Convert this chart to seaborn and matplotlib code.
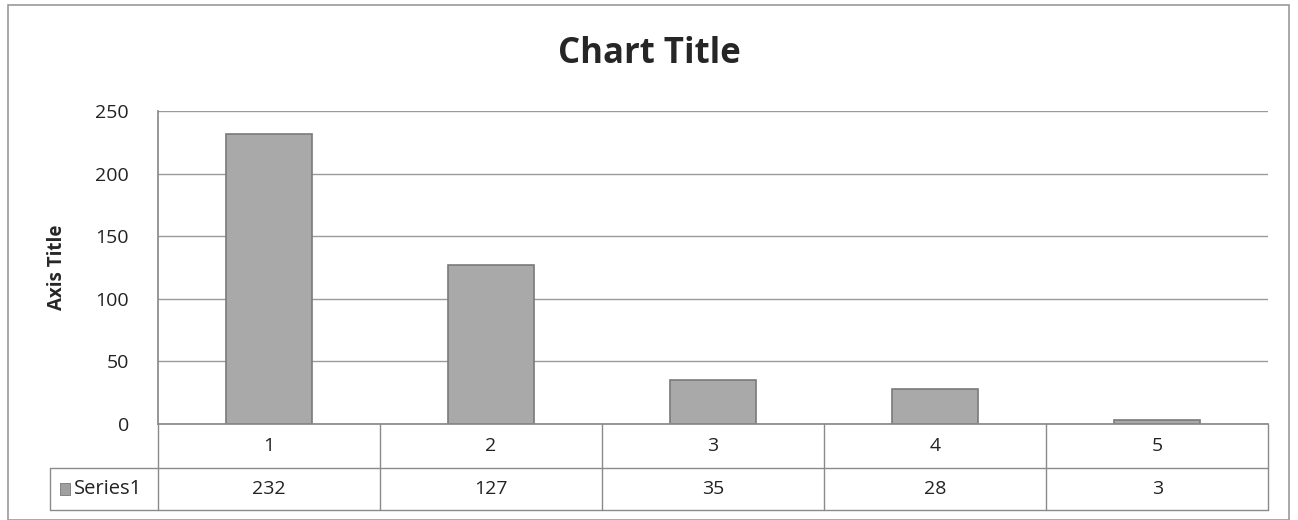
import matplotlib
matplotlib.use("Agg")
import matplotlib.pyplot as plt
import matplotlib.transforms as mtransforms
from matplotlib.patches import Rectangle
import seaborn as sns
import pandas as pd

# data
categories = ["1", "2", "3", "4", "5"]
values = [232, 127, 35, 28, 3]
series_name = "Series1"

sns.set_theme(style="white")
plt.rcParams['font.family'] = ['Open Sans', 'DejaVu Sans']

df = pd.DataFrame({"cat": categories, "val": values})

fig = plt.figure(figsize=(12.98, 5.2), dpi=100)
ax = fig.add_axes([0.1217, 0.1846, 0.8553, 0.6019])

sns.barplot(data=df, x="cat", y="val", color="#a9a9a9", width=0.39,
            edgecolor="#7a7a7a", linewidth=1.2, saturation=1, ax=ax)

ax.set_ylim(0, 250)
ax.set_xlim(-0.5, len(categories) - 0.5)
ax.set_yticks([0, 50, 100, 150, 200, 250])
ax.yaxis.grid(True, color="#9a9a9a", linewidth=1)
ax.set_axisbelow(True)
ax.tick_params(axis="y", labelsize=14, colors="#222222", length=0, pad=21)
ax.set_xticks([])
ax.set_xlabel("")
ax.set_ylabel("Axis Title", fontsize=13.5, fontweight="bold", labelpad=20)
for s in ["top", "right"]:
    ax.spines[s].set_visible(False)
ax.spines["left"].set_color("#8a8a8a")
ax.spines["bottom"].set_color("#8a8a8a")

fig.suptitle("Chart Title", fontsize=25, fontweight="bold", y=0.93)

# data table under the plot
trans = mtransforms.blended_transform_factory(ax.transData, ax.transAxes)
line_kw = dict(color="#8a8a8a", linewidth=1, clip_on=False)
n = len(categories)
r1, r2 = -0.1406, -0.275
left_x = -0.5 - 0.4865  # legend column start in data units
ax.plot([left_x, n - 0.5], [r1, r1], transform=trans, **line_kw)
ax.plot([left_x, n - 0.5], [r2, r2], transform=trans, **line_kw)
ax.plot([left_x, left_x], [r1, r2], transform=trans, **line_kw)
for i in range(n + 1):
    ax.plot([i - 0.5, i - 0.5], [0, r2], transform=trans, **line_kw)
for i, (c, v) in enumerate(zip(categories, values)):
    ax.text(i, (0 + r1) / 2, c, transform=trans, ha="center", va="center",
            fontsize=14, color="#222222")
    ax.text(i, (r1 + r2) / 2, str(v), transform=trans, ha="center", va="center",
            fontsize=14, color="#222222")
ax.add_patch(Rectangle((left_x + 0.045, (r1 + r2) / 2 - 0.018), 0.045, 0.036,
                       transform=trans, facecolor="#a0a0a0", edgecolor="#777777",
                       linewidth=0.6, clip_on=False))
ax.text(left_x + 0.11, (r1 + r2) / 2, series_name, transform=trans, ha="left",
        va="center", fontsize=14.5, color="#222222")

# outer chart border
fig.patches.append(Rectangle((0.006, 0.0), 0.987, 0.99, transform=fig.transFigure,
                             fill=False, edgecolor="#9a9a9a", linewidth=1.2))

fig.savefig("out.png", dpi=100)
